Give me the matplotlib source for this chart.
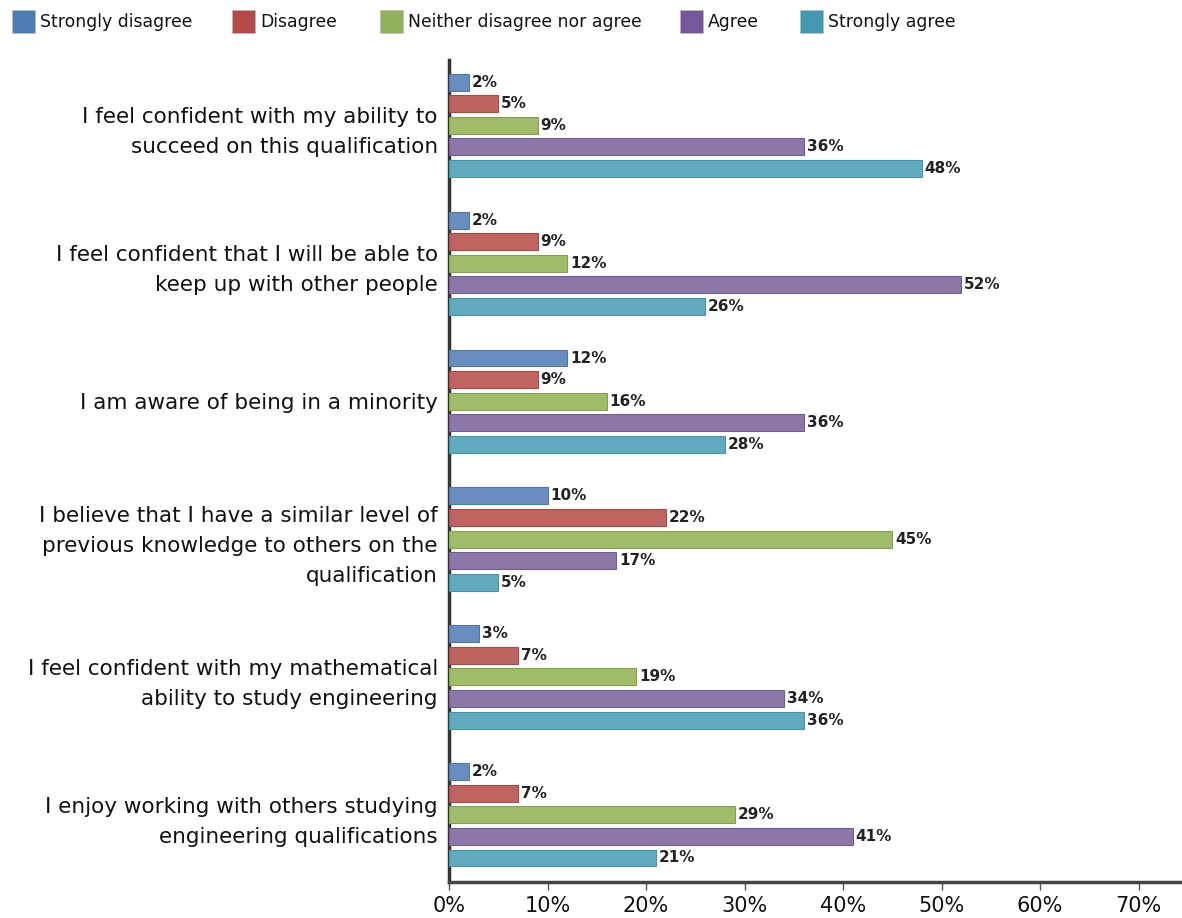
import matplotlib
matplotlib.use("Agg")
import matplotlib.pyplot as plt
from matplotlib.patches import Rectangle
import numpy as np

categories = [
    "I feel confident with my ability to\nsucceed on this qualification",
    "I feel confident that I will be able to\nkeep up with other people",
    "I am aware of being in a minority",
    "I believe that I have a similar level of\nprevious knowledge to others on the\nqualification",
    "I feel confident with my mathematical\nability to study engineering",
    "I enjoy working with others studying\nengineering qualifications",
]
series_names = ["Strongly disagree", "Disagree", "Neither disagree nor agree", "Agree", "Strongly agree"]
strongly_disagree = [2, 2, 12, 10, 3, 2]
disagree = [5, 9, 9, 22, 7, 7]
neither = [9, 12, 16, 45, 19, 29]
agree = [36, 52, 36, 17, 34, 41]
strongly_agree = [48, 26, 28, 5, 36, 21]
values = [strongly_disagree, disagree, neither, agree, strongly_agree]
xticks = [0, 10, 20, 30, 40, 50, 60, 70]

bar_colors = ["#6A8DBF", "#C06462", "#A0BC68", "#8B78A9", "#62ABBF"]
edge_colors = ["#55789F", "#A04E4C", "#85A050", "#705D8E", "#4C91A4"]
legend_colors = ["#4F7DB3", "#B24B48", "#93B05A", "#74589A", "#4499AE"]

W, H = 1182, 918
fig = plt.figure(figsize=(W / 100, H / 100), dpi=100)
ax = fig.add_axes([449 / W, 1 - 882 / H, 1 - 449 / W, (882 - 60) / H])

pitch = 0.156
height = 0.123
n = len(categories)
y = np.arange(n)
for i, (vals, c, ec) in enumerate(zip(values, bar_colors, edge_colors)):
    yy = y + (i - 2) * pitch
    ax.barh(yy, vals, height=height, color=c, edgecolor=ec, linewidth=0.8, zorder=3)
    for yi, v in zip(yy, vals):
        ax.text(v + 0.3, yi, f"{v}%", va="center", ha="left", fontsize=11,
                fontweight="bold", color="#222222")

ax.set_ylim(n - 1 + 0.486, -0.472)
ax.set_xlim(0, (W - 449) / 9.85)
ax.set_yticks(y)
ax.set_yticklabels(categories, fontsize=15.5, linespacing=1.62, color="#111111")
ax.tick_params(axis="y", length=0, pad=8)
ax.set_xticks(xticks)
ax.set_xticklabels([f"{t}%" for t in xticks], fontsize=15, color="#111111")
ax.tick_params(axis="x", length=6, width=1, color="#555555", pad=4)
for s in ["top", "right"]:
    ax.spines[s].set_visible(False)
ax.spines["left"].set_linewidth(2.5)
ax.spines["left"].set_color("#333333")
ax.spines["bottom"].set_linewidth(2.5)
ax.spines["bottom"].set_color("#444444")

# legend
leg_x = [12, 232, 380, 680, 800]
for name, c, lx in zip(series_names, legend_colors, leg_x):
    fig.patches.append(Rectangle((lx / W, 1 - 33 / H), 23 / W, 23 / H, transform=fig.transFigure,
                                 facecolor=c, edgecolor="#bbbbbb", linewidth=0.5))
    fig.text((lx + 28) / W, 1 - 22 / H, name, fontsize=12.4, va="center", ha="left", color="#111111")

fig.savefig("out.png", dpi=100)
